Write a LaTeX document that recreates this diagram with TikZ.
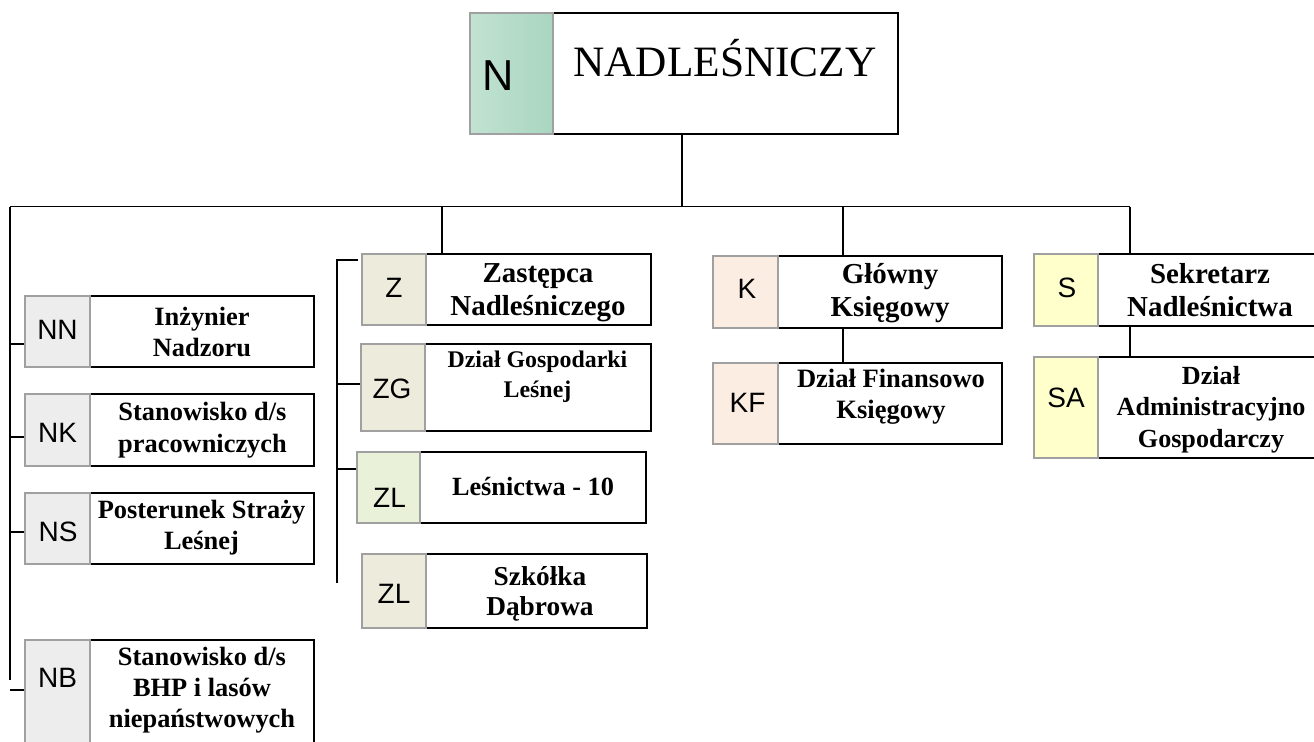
\documentclass[tikz,border=0pt]{standalone}
\usepackage{fontspec}
\setmainfont{Liberation Serif}
\newfontfamily\arialf{Liberation Sans}
\usetikzlibrary{fit}
\definecolor{boxgray}{HTML}{A0A0A0}
\definecolor{fgray}{HTML}{EDEDED}
\definecolor{fbeige}{HTML}{EDEBDC}
\definecolor{fgreen}{HTML}{E9F2D8}
\definecolor{fpeach}{HTML}{FCEDE3}
\definecolor{fyellow}{HTML}{FFFFCC}
\definecolor{ngl}{HTML}{C2E2D2}
\definecolor{ngm}{HTML}{E6F3ED}
\definecolor{ngr}{HTML}{A9D6C0}
\begin{document}
\begin{tikzpicture}[x=0.75pt,y=-0.75pt,
  line/.style={line width=1.4pt, draw=black},
  wbox/.style={draw=black, line width=1.6pt, fill=white, inner sep=0pt},
  cbox/.style={draw=boxgray, line width=1.4pt, inner sep=0pt},
  code/.style={font=\arialf\fontsize{21}{25}\selectfont, anchor=base, inner sep=0pt},
  ltext/.style={font=\bfseries\fontsize{19.8}{23.6}\selectfont, align=center, inner sep=0pt},
  ttext/.style={font=\bfseries\fontsize{21.7}{24.75}\selectfont, align=center, inner sep=0pt}
]
\useasboundingbox (0,0) rectangle (1314,742);
\clip (0,0) rectangle (1314,742);

% ---- coordinates for connectors
\coordinate (bN) at (682,206.5);
\coordinate (bL) at (10,206.5);
\coordinate (bS) at (1130,206.5);
\coordinate (bZ) at (442,206.5);
\coordinate (bK) at (843,206.5);
\coordinate (lEnd) at (10,680);
\coordinate (sNN) at (10,344);
\coordinate (sNK) at (10,437);
\coordinate (sNS) at (10,532);
\coordinate (sNB) at (10,690);
\coordinate (zTop) at (337,260);
\coordinate (zEnd) at (337,583);
\coordinate (sZG) at (337,384);
\coordinate (sZL) at (337,469);

% ---- white boxes
\node[wbox, fit={(553,13) (898,134)}] (Nw) {};
\node[wbox, fit={(90,296) (314,367)}] (NNw) {};
\node[wbox, fit={(90,394) (314,466)}] (NKw) {};
\node[wbox, fit={(90,493) (314,564)}] (NSw) {};
\node[wbox, fit={(90,640) (314,770)}] (NBw) {};
\node[wbox, fit={(426,254) (651,325)}] (Zw) {};
\node[wbox, fit={(425,344) (651,431)}] (ZGw) {};
\node[wbox, fit={(420,452) (646,523)}] (ZLw) {};
\node[wbox, fit={(426,554) (647,628)}] (ZSw) {};
\node[wbox, fit={(778,256) (1002,328)}] (Kw) {};
\node[wbox, fit={(778,363) (1002,444)}] (KFw) {};
\node[wbox, fit={(1098,254) (1322,326)}] (Sw) {};
\node[wbox, fit={(1098,357) (1322,458)}] (SAw) {};

% ---- coloured code boxes
\node[cbox, fit={(470,13) (553,134)}, left color=ngl, middle color=ngm, right color=ngr] (Nc) {};
\node[cbox, fill=fgray, fit={(25,296) (90,367)}] (NNc) {};
\node[cbox, fill=fgray, fit={(25,394) (90,466)}] (NKc) {};
\node[cbox, fill=fgray, fit={(25,493) (90,564)}] (NSc) {};
\node[cbox, fill=fgray, fit={(25,640) (90,770)}] (NBc) {};
\node[cbox, fill=fbeige, fit={(362,254) (426,325)}] (Zc) {};
\node[cbox, fill=fbeige, fit={(361,344) (425,431)}] (ZGc) {};
\node[cbox, fill=fgreen, fit={(357,452) (420,523)}] (ZLc) {};
\node[cbox, fill=fbeige, fit={(362,554) (426,628)}] (ZSc) {};
\node[cbox, fill=fpeach, fit={(713,256) (778,328)}] (Kc) {};
\node[cbox, fill=fpeach, fit={(713,363) (778,444)}] (KFc) {};
\node[cbox, fill=fyellow, fit={(1034,254) (1098,326)}] (Sc) {};
\node[cbox, fill=fyellow, fit={(1034,357) (1098,458)}] (SAc) {};

% ---- connectors
\draw[line] (bN |- Nw.south) -- (bN);
\draw[line] (bL) -- (bS);
\draw[line] (bL) -- (lEnd);
\draw[line] (sNN) -- (sNN -| NNc.west);
\draw[line] (sNK) -- (sNK -| NKc.west);
\draw[line] (sNS) -- (sNS -| NSc.west);
\draw[line] (sNB) -- (sNB -| NBc.west);
\draw[line] (bZ) -- (bZ |- Zw.north);
\draw[line] (zEnd) -- (zTop) -- ([xshift=-2.25pt]zTop -| Zc.west);
\draw[line] (sZG) -- (sZG -| ZGc.west);
\draw[line] (sZL) -- (sZL -| ZLc.west);
\draw[line] (bK) -- (bK |- Kw.north);
\draw[line] (bK |- Kw.south) -- (bK |- KFw.north);
\draw[line] (bS) -- (bS |- Sw.north);
\draw[line] (bS |- Sw.south) -- (bS |- SAw.north);

% ---- code labels
\node[code, font=\arialf\fontsize{32.5}{36}\selectfont] (Nl) at (498,91) {N};
\node[code] (NNl) at (57.5,339) {NN};
\node[code] (NKl) at (57.5,442) {NK};
\node[code] (NSl) at (58,541) {NS};
\node[code] (NBl) at (57.5,687) {NB};
\node[code] (Zl) at (394,297) {Z};
\node[code] (ZGl) at (392,398) {ZG};
\node[code] (ZLl) at (389.5,507) {ZL};
\node[code] (ZSl) at (394,603) {ZL};
\node[code] (Kl) at (747,298) {K};
\node[code] (KFl) at (747.5,412) {KF};
\node[code] (Sl) at (1067,297) {S};
\node[code] (SAl) at (1066,407) {SA};

% ---- texts
\node[anchor=base, inner sep=0pt, font=\fontsize{32.5}{39}\selectfont] (Nt) at (725,77) {NADLEŚNICZY};
\node[ltext] (NNt) at (202,332) {Inżynier\\Nadzoru};
\node[ltext] (NKt) at (202.5,430) {Stanowisko d/s\\pracowniczych};
\node[ltext] (NSt) at (201.5,527.5) {Posterunek Straży\\Leśnej};
\node[ltext, font=\bfseries\fontsize{19.8}{23.25}\selectfont] (NBt) at (202,690) {Stanowisko d/s\\BHP i lasów\\niepaństwowych};
\node[ttext] (Zt) at (538,292.5) {Zastępca\\Nadleśniczego};
\node[ltext, font=\bfseries\fontsize{17.9}{22.5}\selectfont] (ZGt) at (537.5,376.6) {Dział Gospodarki\\Leśnej};
\node[anchor=base, inner sep=0pt, font=\bfseries\fontsize{19.7}{23}\selectfont] (ZLt) at (533,495) {Leśnictwa - 10};
\node[ltext, font=\bfseries\fontsize{20.5}{22.5}\selectfont] (ZSt) at (540,593.5) {Szkółka\\Dąbrowa};
\node[ttext] (Kt) at (890,293.5) {Główny\\Księgowy};
\node[ltext, font=\bfseries\fontsize{19.9}{23.25}\selectfont] (KFt) at (891,396.5) {Dział Finansowo\\Księgowy};
\node[ttext] (St) at (1210,290.5) {Sekretarz\\Nadleśnictwa};
\node[ltext, font=\bfseries\fontsize{19.6}{23.6}\selectfont] (SAt) at (1211,409.5) {Dział\\Administracyjno\\Gospodarczy};
\end{tikzpicture}
\end{document}
